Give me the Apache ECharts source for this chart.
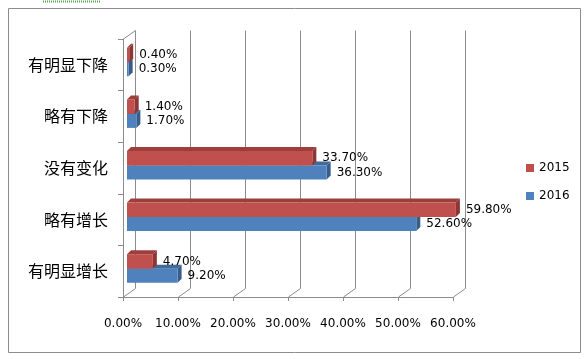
<!DOCTYPE html>
<html><head><meta charset="utf-8">
<script src="https://cdn.jsdelivr.net/npm/echarts@6/dist/echarts.min.js"></script>
<style>html,body{margin:0;padding:0;background:#fff}#c{width:587px;height:359px}</style>
</head><body><div id="c"></div>
<script>
const categories = ['有明显增长', '略有增长', '没有变化', '略有下降', '有明显下降'];
const values2015 = [4.7, 59.8, 33.7, 1.4, 0.4];
const values2016 = [9.2, 52.6, 36.3, 1.7, 0.3];
const xTicks = [0, 10, 20, 30, 40, 50, 60];
const seriesNames = ['2015', '2016'];

const FRONT = {'2015': '#C0504D', '2016': '#4F81BD'};
const TOP = {'2015': '#9E3E3B', '2016': '#41699A'};
const SIDE = {'2015': '#8C3734', '2016': '#385D8A'};
const GRID = '#8C8C8C';
const WDX = 12, WDY = 8.5; // wall depth
const BDX = 4, BDY = 4;   // bar depth
const FONT = 'DejaVu Sans';

function barRender(name, offTop, h) {
  return function (params, api) {
    const idx = api.value(0);
    const v = api.value(1);
    const c = api.coord([0, idx]);
    const e = api.coord([v, idx]);
    const x0 = c[0] + 4, x1 = e[0] + 4;
    const top = c[1] + offTop, bot = top + h;
    const children = [
      {type: 'polygon', shape: {points: [[x0, top], [x1, top], [x1 + BDX, top - BDY], [x0 + BDX, top - BDY]]}, style: {fill: TOP[name]}},
      {type: 'polygon', shape: {points: [[x1, top], [x1 + BDX, top - BDY], [x1 + BDX, bot - BDY], [x1, bot]]}, style: {fill: SIDE[name]}},
      {type: 'rect', shape: {x: x0, y: top, width: x1 - x0, height: h}, style: {fill: FRONT[name]}},
      {type: 'text', x: x1 + 10, y: top + h / 2, style: {text: v.toFixed(2) + '%', fill: '#000', font: '12px "' + FONT + '"', verticalAlign: 'middle', align: 'left'}}
    ];
    return {type: 'group', children: children};
  };
}

function frameRender(params, api) {
  const v = api.value(0);
  const cs = params.coordSys;
  const x = api.coord([v, 0])[0];
  const top = cs.y, bot = cs.y + cs.height;
  const ls = {stroke: GRID, lineWidth: 1};
  const ch = [
    {type: 'line', shape: {x1: x + WDX + 0.5, y1: top - WDY, x2: x + WDX + 0.5, y2: bot - WDY}, style: ls},
    {type: 'line', shape: {x1: x + WDX + 0.5, y1: bot - WDY, x2: x + 0.5, y2: bot}, style: ls}
  ];
  if (v === 0) {
    ch.push({type: 'line', shape: {x1: x + 0.5, y1: top, x2: x + WDX + 0.5, y2: top - WDY}, style: ls});
  }
  return {type: 'group', children: ch};
}

const chart = echarts.init(document.getElementById('c'), null, {renderer: 'canvas'});
chart.setOption({
  animation: false,
  backgroundColor: '#fff',
  textStyle: {fontFamily: FONT},
  grid: {left: 123, right: 134, top: 39, bottom: 62},
  xAxis: {
    type: 'value', min: 0, max: 60, interval: 10,
    axisLine: {show: true, lineStyle: {color: GRID}},
    axisTick: {show: true, length: 4, lineStyle: {color: GRID}},
    splitLine: {show: false},
    axisLabel: {formatter: v => v.toFixed(2) + '%', color: '#000', fontSize: 12, fontFamily: FONT, margin: 21}
  },
  yAxis: {
    type: 'category', data: categories,
    axisLine: {show: true, lineStyle: {color: GRID}},
    axisTick: {show: true, length: 5, lineStyle: {color: GRID}},
    axisLabel: {color: '#000', fontSize: 16, fontFamily: 'Noto Sans CJK SC', margin: 15}
  },
  legend: {
    data: seriesNames, orient: 'vertical', left: 521, top: 157,
    itemWidth: 8, itemHeight: 8, itemGap: 16, icon: 'rect',
    textStyle: {fontSize: 12, fontFamily: FONT, color: '#000', lineHeight: 12}
  },
  graphic: [
    {type: 'rect', shape: {x: 8.5, y: 8.5, width: 572, height: 344}, style: {fill: null, stroke: '#8C8C8C', lineWidth: 1}, z: -10},
    {type: 'line', shape: {x1: 43, y1: 1.5, x2: 100, y2: 1.5}, style: {stroke: '#5AA05A', lineWidth: 2, lineDash: [1, 1]}}
  ],
  series: [
    {type: 'custom', name: 'frame', renderItem: frameRender, data: xTicks.map(v => [v]), encode: {x: 0}, silent: true, z: 1},
    {type: 'custom', name: '2016', itemStyle: {color: FRONT['2016']}, renderItem: barRender('2016', -2.5, 14),
     data: values2016.map((v, i) => [i, v]), encode: {y: 0, x: 1}, z: 2},
    {type: 'custom', name: '2015', itemStyle: {color: FRONT['2015']}, renderItem: barRender('2015', -17, 14.5),
     data: values2015.map((v, i) => [i, v]), encode: {y: 0, x: 1}, z: 3}
  ]
});
</script></body></html>
